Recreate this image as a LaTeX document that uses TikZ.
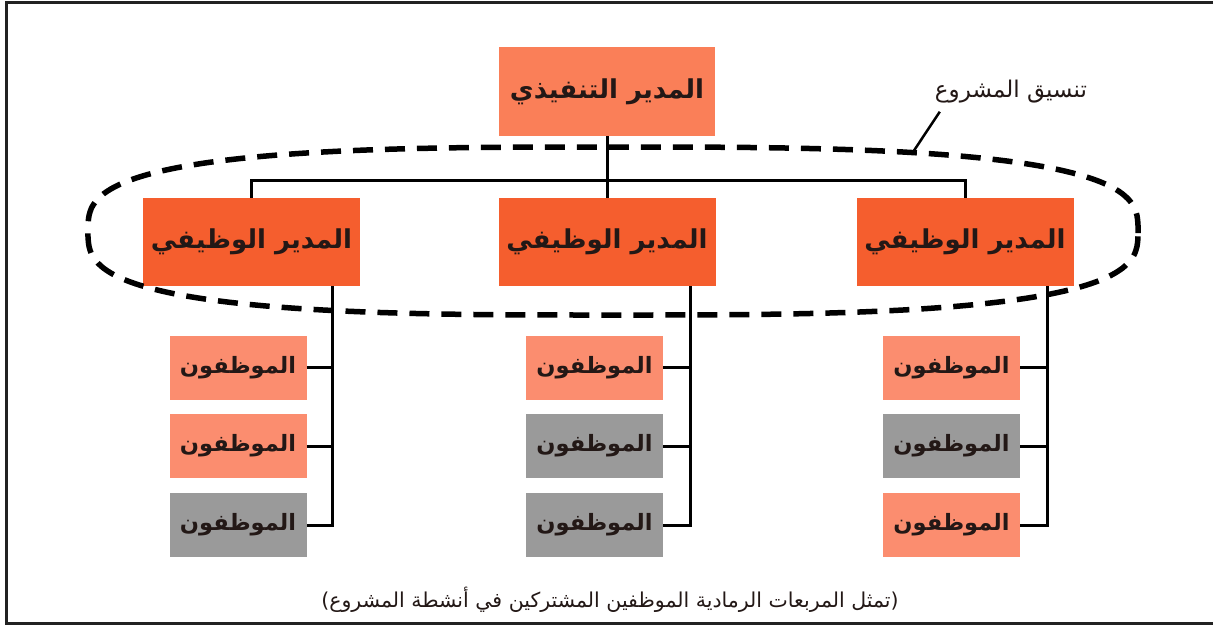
\documentclass[tikz,border=0pt]{standalone}
\usepackage{fontspec}
\TeXXeTstate=1
\newfontfamily\arabicfont[Script=Arabic]{DejaVu Sans}
\definecolor{ceoC}{HTML}{FA7F58}
\definecolor{mgrC}{HTML}{F55E2E}
\definecolor{empC}{HTML}{FB8D6F}
\definecolor{shareC}{HTML}{9A9A9A}
\definecolor{inkC}{HTML}{231816}
\definecolor{frameC}{HTML}{222222}
\tikzset{
  box/.style={inner sep=0pt, text=inkC},
  ceobox/.style={box, fill=ceoC, minimum width=216pt, minimum height=89pt,
    font=\arabicfont\bfseries\fontsize{26}{30}\selectfont},
  mgrbox/.style={box, fill=mgrC, minimum width=217pt, minimum height=88pt,
    font=\arabicfont\bfseries\fontsize{26}{30}\selectfont},
  empbox/.style={box, fill=empC, minimum width=137pt, minimum height=64pt,
    font=\arabicfont\bfseries\fontsize{22.5}{26}\selectfont},
  sharebox/.style={empbox, fill=shareC},
  link/.style={draw=black, line width=3pt},
  coordring/.style={draw=black, line width=5.5pt, dash pattern=on 20pt off 12pt},
  note/.style={inner sep=0pt, text=inkC, font=\arabicfont\fontsize{23}{27}\selectfont},
}
\newcommand{\ar}[1]{\beginR #1\endR}
\begin{document}
\begin{tikzpicture}[x=1pt, y=-1pt]
\useasboundingbox (0,0) rectangle (1216,625);
% outer frame
\draw[frameC, line width=3pt] (1213,2) -- (6,2) -- (6,623.5) -- (1213,623.5);

% executive director and functional managers
\node[ceobox] (ceo) at (607,91.5) {\ar{المدير التنفيذي}};
\node[mgrbox] (m1) at (251.5,242) {\ar{المدير الوظيفي}};
\node[mgrbox] (m2) at (607,242) {\ar{المدير الوظيفي}};
\node[mgrbox] (m3) at (965,242) {\ar{المدير الوظيفي}};

% staff columns
\node[empbox]   (e11) at (238,367.5) {\ar{الموظفون}};
\node[empbox]   (e12) at (238,446)   {\ar{الموظفون}};
\node[sharebox] (e13) at (238,525)   {\ar{الموظفون}};
\node[empbox]   (e21) at (594.5,367.5) {\ar{الموظفون}};
\node[sharebox] (e22) at (594.5,446)   {\ar{الموظفون}};
\node[sharebox] (e23) at (594.5,525)   {\ar{الموظفون}};
\node[empbox]   (e31) at (951.5,367.5) {\ar{الموظفون}};
\node[sharebox] (e32) at (951.5,446)   {\ar{الموظفون}};
\node[empbox]   (e33) at (951.5,525)   {\ar{الموظفون}};

% top-level links
\coordinate (bus) at (607,180);
\draw[link] (ceo.south) -- (m2.north);
\draw[link] (m1.north) |- (bus) -| (m3.north);

% manager-to-staff trunks
\coordinate (t1) at (332,525);
\coordinate (t2) at (690,525);
\coordinate (t3) at (1047,525);
\foreach \m/\t/\c in {m1/t1/1, m2/t2/2, m3/t3/3}{
  \draw[link] (\m.south -| \t) -- (\t) -- (e\c3.east);
  \draw[link] (e\c1.east) -- (e\c1.east -| \t);
  \draw[link] (e\c2.east) -- (e\c2.east -| \t);
}

% project coordination ring
\draw[coordring] plot[domain=0.9:360.9, samples=201, variable=\t]
  ({613+525*sign(cos(\t))*abs(cos(\t))^(2/3)},
   {231+84*sign(sin(\t))*abs(sin(\t))^(2/3)}) -- cycle;

% ring label with leader
\node[note] (lbl) at (1011,92) {\ar{تنسيق المشروع}};
\coordinate (lead) at (913,152);
\draw[line width=2.5pt] ([xshift=5pt,yshift=-8pt]lbl.south west) -- (lead);

% caption
\node[note, font=\arabicfont\fontsize{20.5}{24}\selectfont] (cap) at (610,600)
  {)\ar{تمثل المربعات الرمادية الموظفين المشتركين في أنشطة المشروع}(};
\end{tikzpicture}
\end{document}
